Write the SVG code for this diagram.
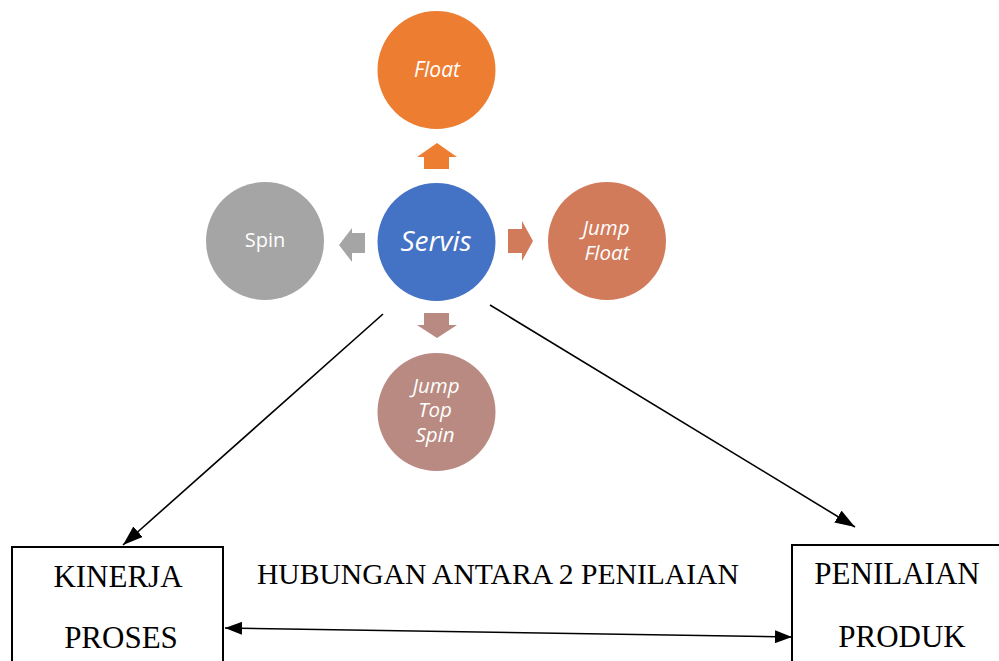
<svg xmlns="http://www.w3.org/2000/svg" width="999" height="661" viewBox="0 0 999 661">
<defs>
<marker id="big" markerWidth="20" markerHeight="14" refX="20" refY="7" orient="auto" markerUnits="userSpaceOnUse" viewBox="0 0 20 14">
<path d="M0,0 L20,7 L0,14 Z" fill="#000"/>
</marker>
<marker id="mid" markerWidth="17" markerHeight="13" refX="17" refY="6.5" orient="auto-start-reverse" markerUnits="userSpaceOnUse" viewBox="0 0 17 13">
<path d="M0,0 L17,6.5 L0,13 Z" fill="#000"/>
</marker>
</defs>
<style>
.ct{font-family:"Open Sans","Noto Sans",sans-serif;fill:#fff;text-anchor:middle}
.it{font-style:italic}
.tt{font-family:"Liberation Serif","Times New Roman",serif;fill:#000}
.box{fill:#fff;stroke:#000;stroke-width:2}
.ln{stroke:#000;stroke-width:1.6;fill:none}
</style>
<rect width="999" height="661" fill="#fff"/>
<g id="float"><circle cx="436.5" cy="70" r="59" fill="#ED7D31"/><text class="ct it" x="437" y="77" font-size="21">Float</text></g>
<g id="servis"><circle cx="436.5" cy="242" r="59" fill="#4472C4"/><text class="ct it" x="436" y="251" font-size="28">Servis</text></g>
<g id="spin"><circle cx="265" cy="241" r="59" fill="#A5A5A5"/><text class="ct" x="265" y="247" font-size="20">Spin</text></g>
<g id="jumpfloat"><circle cx="607" cy="241" r="59" fill="#D27B5B"/><text class="ct it" x="606" y="235" font-size="20.5">Jump</text><text class="ct it" x="607" y="260" font-size="20.5">Float</text></g>
<g id="jumptopspin"><circle cx="436.5" cy="412" r="59" fill="#B98A81"/><text class="ct it" x="436" y="393" font-size="20.5">Jump</text><text class="ct it" x="435" y="417" font-size="20.5">Top</text><text class="ct it" x="435" y="442" font-size="20.5">Spin</text></g>
<g id="block-arrows">
<path d="M437,143 L457,157 L449,157 L449,169 L424,169 L424,157 L417,157 Z" fill="#ED7D31"/>
<path d="M424,313 L449,313 L449,325 L457,325 L437,338 L417,325 L424,325 Z" fill="#B98A81"/>
<path d="M339,245 L352,228 L352,233 L365,233 L365,253 L352,253 L352,262 Z" fill="#A5A5A5"/>
<path d="M508,229 L522,229 L522,221 L533,241 L522,261 L522,253 L508,253 Z" fill="#D27B5B"/>
</g>
<g id="kinerja"><rect class="box" x="12" y="547" width="211" height="130"/><text class="tt" x="118" y="587" font-size="31" text-anchor="middle">KINERJA</text><text class="tt" x="121" y="648" font-size="31" text-anchor="middle">PROSES</text></g>
<g id="penilaian"><rect class="box" x="792" y="545" width="220" height="130"/><text class="tt" x="897" y="584" font-size="31" text-anchor="middle">PENILAIAN</text><text class="tt" x="902" y="647" font-size="31" text-anchor="middle">PRODUK</text></g>
<g id="label"><text class="tt" x="257" y="584" font-size="29.6">HUBUNGAN ANTARA 2 PENILAIAN</text></g>
<g id="connectors">
<line class="ln" x1="383" y1="314" x2="123" y2="545" marker-end="url(#big)"/>
<line class="ln" x1="490" y1="305" x2="855" y2="527" marker-end="url(#big)"/>
<line class="ln" x1="225" y1="628" x2="792" y2="637" marker-start="url(#mid)" marker-end="url(#mid)"/>
</g>
</svg>
